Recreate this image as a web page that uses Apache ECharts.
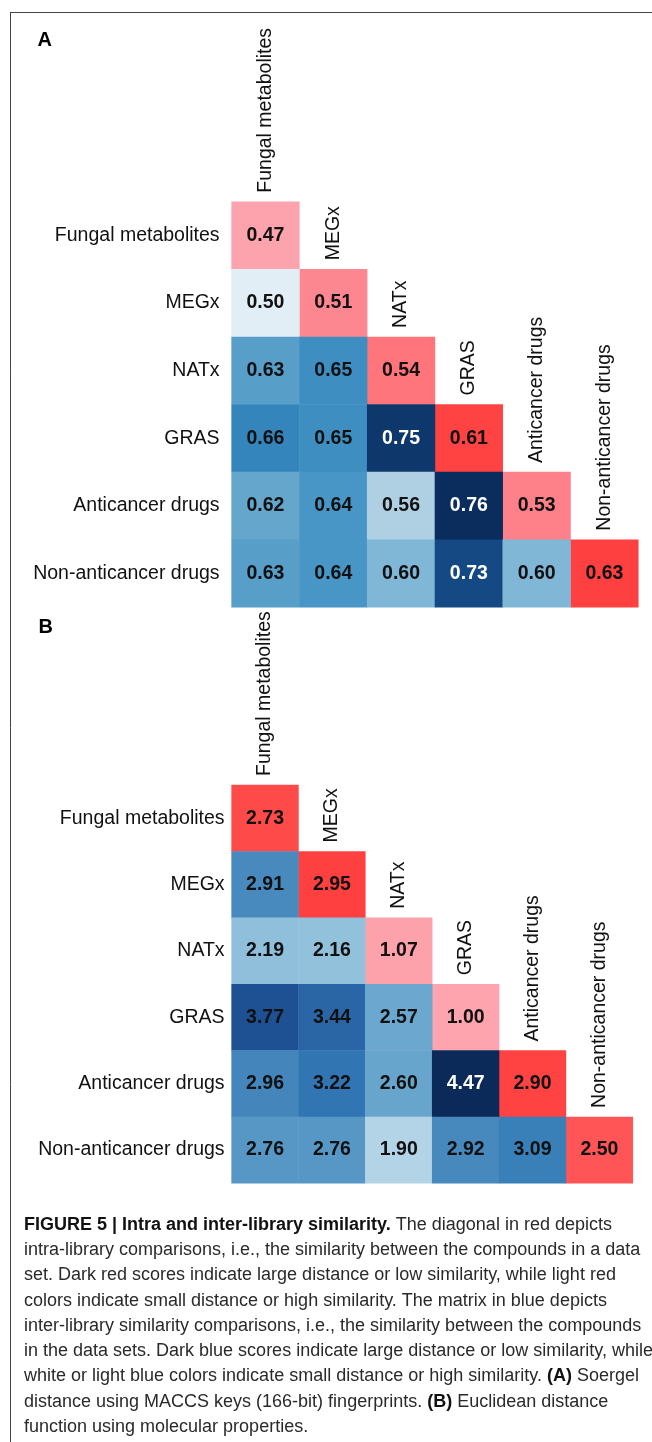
<!DOCTYPE html>
<html>
<head>
<meta charset="utf-8">
<script src="https://cdn.jsdelivr.net/npm/echarts@6/dist/echarts.min.js"></script>
<style>
  html, body { margin: 0; padding: 0; background: #ffffff; }
  #chart { width: 652px; height: 1442px; }
</style>
</head>
<body>
<div id="chart"></div>
<script>
// ---------------- data ----------------
const categories = ['Fungal metabolites', 'MEGx', 'NATx', 'GRAS', 'Anticancer drugs', 'Non-anticancer drugs'];

// Panel A: Soergel distance (MACCS keys), lower triangle, row by row
const soergelRows = [
  [0.47],
  [0.50, 0.51],
  [0.63, 0.65, 0.54],
  [0.66, 0.65, 0.75, 0.61],
  [0.62, 0.64, 0.56, 0.76, 0.53],
  [0.63, 0.64, 0.60, 0.73, 0.60, 0.63]
];

// Panel B: Euclidean distance (molecular properties), lower triangle, row by row
const euclidRows = [
  [2.73],
  [2.91, 2.95],
  [2.19, 2.16, 1.07],
  [3.77, 3.44, 2.57, 1.00],
  [2.96, 3.22, 2.60, 4.47, 2.90],
  [2.76, 2.76, 1.90, 2.92, 3.09, 2.50]
];

const panelLabels = ['A', 'B'];

const captionLines = [
  '{b|FIGURE 5 | Intra and inter-library similarity.} The diagonal in red depicts',
  'intra-library comparisons, i.e., the similarity between the compounds in a data',
  'set. Dark red scores indicate large distance or low similarity, while light red',
  'colors indicate small distance or high similarity. The matrix in blue depicts',
  'inter-library similarity comparisons, i.e., the similarity between the compounds',
  'in the data sets. Dark blue scores indicate large distance or low similarity, while',
  'white or light blue colors indicate small distance or high similarity. {b|(A)} Soergel',
  'distance using MACCS keys (166-bit) fingerprints. {b|(B)} Euclidean distance',
  'function using molecular properties.'
];

// ---------------- helpers ----------------
const FONT = '"Liberation Sans", Arial, Helvetica, sans-serif';

function splitTriangle(rows, whiteFrom) {
  const diag = [], off = [];
  rows.forEach((row, r) => {
    row.forEach((v, c) => {
      const item = { value: [c, r, v] };
      if (v >= whiteFrom) item.label = { color: '#ffffff' };
      (c === r ? diag : off).push(item);
    });
  });
  return { diag, off };
}

const A = splitTriangle(soergelRows, 0.70);
const B = splitTriangle(euclidRows, 4.0);

function minMax(arr) {
  const vals = arr.map(d => d.value[2]);
  return [Math.min.apply(null, vals), Math.max.apply(null, vals)];
}

const labelStyle = {
  show: true,
  fontFamily: FONT,
  fontWeight: 'bold',
  fontSize: 19.5,
  color: '#111111',
  formatter: p => p.value[2].toFixed(2)
};

function heat(data, gi) {
  return {
    type: 'heatmap',
    xAxisIndex: gi, yAxisIndex: gi,
    data: data,
    label: labelStyle,
    itemStyle: { borderWidth: 0 },
    emphasis: { disabled: true },
    silent: true
  };
}

function topLabels(gi) {
  return {
    type: 'custom',
    xAxisIndex: gi, yAxisIndex: gi,
    silent: true,
    clip: false,
    data: categories.map((c, i) => [i, i]),
    renderItem: function (params, api) {
      const p = api.coord([api.value(0), api.value(1)]);
      const sz = api.size([1, 1]);
      return {
        type: 'text',
        x: p[0],
        y: p[1] - sz[1] / 2 - 9,
        rotation: Math.PI / 2,
        style: {
          text: categories[params.dataIndex],
          font: '19.5px ' + FONT,
          fill: '#111111',
          align: 'left',
          verticalAlign: 'middle'
        }
      };
    }
  };
}

const grids = [
  { left: 231.6, top: 201.7, width: 406.7, height: 405.6 },
  { left: 231.6, top: 785, width: 401.2, height: 398.3 }
];
const yMargins = [12, 7];

const xAxes = grids.map((g, i) => ({
  type: 'category', gridIndex: i, data: categories, show: false
}));
const yAxes = grids.map((g, i) => ({
  type: 'category', gridIndex: i, data: categories, inverse: true,
  axisLine: { show: false }, axisTick: { show: false }, splitLine: { show: false },
  axisLabel: { fontFamily: FONT, fontSize: 19.5, color: '#111111', margin: yMargins[i] }
}));

const mmAd = minMax(A.diag), mmAo = minMax(A.off), mmBd = minMax(B.diag), mmBo = minMax(B.off);

const visualMaps = [
  { show: false, type: 'continuous', seriesIndex: 0, min: mmAd[0], max: mmAd[1], dimension: 2,
    inRange: { color: ['#FCA3AD', '#FC95A0', '#FD8790', '#FE8088', '#FF6A6E', '#FF5C60', '#FF4E4E', '#FF4242', '#FF4040'] } },
  { show: false, type: 'continuous', seriesIndex: 1, min: mmAo[0], max: mmAo[1], dimension: 2,
    inRange: { color: ['#E2EEF6', '#CFE2EE', '#BDD8E8', '#AED0E2', '#96C3DC', '#80B6D6', '#65A6CD', '#4896C5', '#3585BD', '#2A70AE', '#205C9C', '#17508D', '#12427A', '#0A2D5E'] } },
  { show: false, type: 'continuous', seriesIndex: 2, min: mmBd[0], max: mmBd[1], dimension: 2,
    inRange: { color: ['#FDA4AE', '#FD929C', '#FE7C84', '#FE666B', '#FF5252', '#FF4040'] } },
  { show: false, type: 'continuous', seriesIndex: 3, min: mmBo[0], max: mmBo[1], dimension: 2,
    inRange: { color: ['#B3D3E6', '#92C1DC', '#7CB4D5', '#609FCA', '#4688BD', '#3279B5', '#2A66A6', '#1F5599', '#184887', '#123A72', '#0B2A5A'] } }
];

const graphics = [
  { type: 'line', shape: { x1: 10, y1: 12.5, x2: 652, y2: 12.5 }, style: { stroke: '#444444', lineWidth: 1 }, silent: true },
  { type: 'line', shape: { x1: 10.5, y1: 12.5, x2: 10.5, y2: 1442 }, style: { stroke: '#444444', lineWidth: 1 }, silent: true },
  { type: 'text', x: 37.5, y: 40, style: { text: panelLabels[0], font: 'bold 20px ' + FONT, fill: '#000', verticalAlign: 'middle' }, silent: true },
  { type: 'text', x: 38.5, y: 627, style: { text: panelLabels[1], font: 'bold 20px ' + FONT, fill: '#000', verticalAlign: 'middle' }, silent: true }
];

const capY0 = 1225, capDY = 25.25;
captionLines.forEach((line, i) => {
  graphics.push({
    type: 'text', x: 24, y: capY0 + i * capDY, silent: true,
    style: {
      text: line,
      fontFamily: FONT, fontSize: 18, fill: '#2a2a2a',
      verticalAlign: 'middle',
      rich: { b: { fontFamily: FONT, fontSize: 18, fontWeight: 'bold', fill: '#111111' } }
    }
  });
});

const chart = echarts.init(document.getElementById('chart'), null, { renderer: 'canvas' });
chart.setOption({
  backgroundColor: '#ffffff',
  animation: false,
  grid: grids,
  xAxis: xAxes,
  yAxis: yAxes,
  visualMap: visualMaps,
  series: [heat(A.diag, 0), heat(A.off, 0), heat(B.diag, 1), heat(B.off, 1), topLabels(0), topLabels(1)],
  graphic: graphics
});
</script>
</body>
</html>
